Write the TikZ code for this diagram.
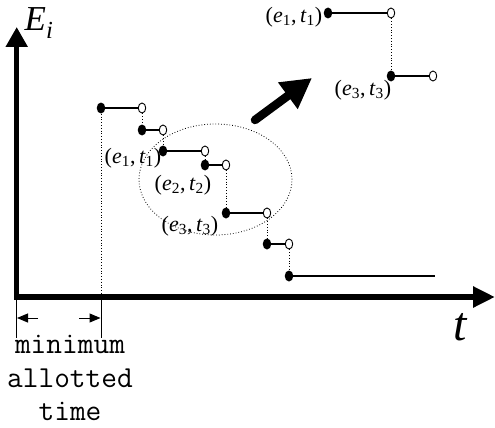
\documentclass[tikz,border=0pt]{standalone}
\usepackage{fontspec}
\setmainfont{Liberation Serif}
\usetikzlibrary{arrows.meta,shapes.geometric}
\newcommand\pairlab[2]{(\textit{e}\textsubscript{#1},\,\textit{t}\textsubscript{#2})}
\begin{document}
\begin{tikzpicture}[x=1pt,y=-1pt,
  fdot/.style={ellipse,fill=black,minimum width=8.5pt,minimum height=11pt,inner sep=0},
  odot/.style={ellipse,draw=black,fill=white,line width=0.9pt,minimum width=7.5pt,minimum height=10pt,inner sep=0},
  seg/.style={line width=2.6pt},
  guide/.style={dotted,line width=0.8pt},
  thinline/.style={line width=0.8pt},
  lab/.style={font=\fontsize{22}{22}\selectfont,inner sep=0},
  axisline/.style={line width=5.5pt,line join=miter,{Triangle[length=20pt,width=21pt]}-{Triangle[length=22pt,width=20pt]}},
  dimarrow/.style={line width=1pt,-{Triangle[length=11pt,width=9pt]}},
]
\useasboundingbox (0,0) rectangle (495,428);
% axes
\coordinate (ytip) at (16.7,27);
\coordinate (orig) at (16.7,297);
\coordinate (xtip) at (495,297);
\draw[axisline] (ytip) -- (orig) -- (xtip);
\node[font=\fontsize{35}{35}\selectfont,inner sep=0] (Ei) at (39,23) {\textit{E}\textsubscript{\textit{i}}};
\node[font=\fontsize{48}{48}\selectfont\itshape,inner sep=0] (tl) at (460,327) {t};
% ellipse
\node[ellipse,draw,guide,minimum width=153pt,minimum height=111pt] (ell) at (215.5,179.5) {};
% steps
\node[fdot] (a1) at (101,108) {};
\node[odot] (b1) at (142,108) {};
\node[fdot] (a2) at (142,130) {};
\node[odot] (b2) at (163,130) {};
\node[fdot] (a3) at (163,151) {};
\node[odot] (b3) at (205,151) {};
\node[fdot] (a4) at (205,165) {};
\node[odot] (b4) at (226,165) {};
\node[fdot] (a5) at (226,213) {};
\node[odot] (b5) at (267,213) {};
\node[fdot] (a6) at (267,244) {};
\node[odot] (b6) at (289,244) {};
\node[fdot] (a7) at (289,276) {};
\coordinate (e7) at (435,276);
\foreach \i in {1,...,6} {\draw[seg] (a\i.center) -- (b\i.west);}
\draw[seg] (a7.center) -- (e7);
\foreach \i/\j in {1/2,2/3,3/4,4/5,5/6,6/7} {\draw[guide] (b\i.south) -- (a\j.north);}
% minimum allotted time
\coordinate (m1) at (a1 |- orig);
\draw[guide] (a1.south) -- (m1);
\coordinate (m1b) at (101,338);
\coordinate (m0b) at (16.7,338);
\draw[thinline] (m1) -- (m1b);
\draw[thinline] (orig) -- (m0b);
\coordinate (da) at (38,318);
\coordinate (db) at (17,318);
\coordinate (dc) at (79,318);
\coordinate (dd) at (100.5,318);
\draw[dimarrow] (da) -- (db);
\draw[dimarrow] (dc) -- (dd);
\node[font=\ttfamily\fontsize{30.5}{33.5}\selectfont,align=center,anchor=north,inner sep=0] (mt) at (70,335) {minimum\\allotted\\time};
% labels
\node[lab] (l1) at (133,158) {\pairlab{1}{1}};
\node[lab] (l2) at (183,185) {\pairlab{2}{2}};
\node[lab] (l3) at (190,226) {\pairlab{3}{3}};
% big arrow
\coordinate (bt) at (255,120);
\coordinate (bh) at (312,78);
\draw[line width=8.5pt,line cap=round,-{Triangle[length=30pt,width=31pt]}] (bt) -- (bh);
% upper right
\node[fdot] (u1) at (328,13) {};
\node[odot] (v1) at (391,13) {};
\node[fdot] (u2) at (391,76) {};
\node[odot] (v2) at (433,76) {};
\draw[seg] (u1.center) -- (v1.west);
\draw[seg] (u2.center) -- (v2.west);
\draw[guide] (v1.south) -- (u2.north);
\node[lab] (l4) at (294,17) {\pairlab{1}{1}};
\node[lab] (l5) at (363,90) {\pairlab{3}{3}};
\end{tikzpicture}
\end{document}
